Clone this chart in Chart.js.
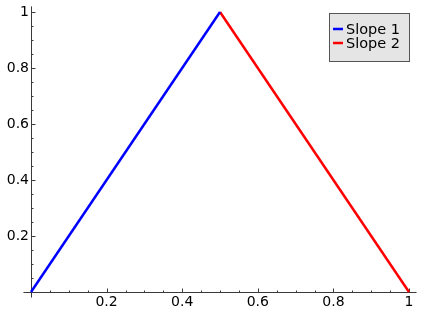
<!DOCTYPE html>
<html>
<head>
<meta charset="utf-8">
<script src="https://cdn.jsdelivr.net/npm/chart.js@4.4.1/dist/chart.umd.min.js"></script>
<style>
  html, body { margin: 0; padding: 0; background: #fff; }
  canvas { display: block; }
</style>
</head>
<body>
<canvas id="plot" width="422" height="316"></canvas>
<script>
// data
var seriesNames = ["Slope 1", "Slope 2"];
var slope1X = [0, 0.5];
var slope1Y = [0, 1];
var slope2X = [0.5, 1];
var slope2Y = [1, 0];
var xTicks = [0.2, 0.4, 0.6, 0.8, 1];
var xTickLabels = ["0.2", "0.4", "0.6", "0.8", "1"];
var yTicks = [0.2, 0.4, 0.6, 0.8, 1];
var yTickLabels = ["0.2", "0.4", "0.6", "0.8", "1"];
var minorStep = 0.05;

function toPoints(xs, ys) {
  return xs.map(function (x, i) { return { x: x, y: ys[i] }; });
}

var FONT = "'DejaVu Sans', sans-serif";
var AXIS_COLOR = "#3a3a3a";

// sage style axes: drawn through 0, a little longer than the data range, ticks pointing in
var sageAxes = {
  id: "sageAxes",
  beforeDatasetsDraw: function (chart) {
    var c = chart.ctx, xs = chart.scales.x, ys = chart.scales.y;
    var x0 = Math.round(xs.getPixelForValue(0)) + 0.5;
    var y0 = Math.round(ys.getPixelForValue(0)) + 0.5;
    c.save();
    c.strokeStyle = AXIS_COLOR;
    c.lineWidth = 1;
    c.beginPath();
    c.moveTo(xs.getPixelForValue(-0.02), y0);
    c.lineTo(xs.getPixelForValue(1.02), y0);
    c.moveTo(x0, ys.getPixelForValue(-0.02));
    c.lineTo(x0, ys.getPixelForValue(1.02));
    for (var v = minorStep; v <= 1.0001; v += minorStep) {
      var major = Math.abs(v / 0.2 - Math.round(v / 0.2)) < 1e-6;
      var len = major ? 4 : 2;
      var px = Math.round(xs.getPixelForValue(v)) + 0.5;
      var py = Math.round(ys.getPixelForValue(v)) + 0.5;
      c.moveTo(px, y0);
      c.lineTo(px, y0 - len);
      c.moveTo(x0, py);
      c.lineTo(x0 + len, py);
    }
    c.stroke();
    c.restore();
  }
};

// boxed legend in the upper right corner
var boxLegend = {
  id: "boxLegend",
  afterDraw: function (chart) {
    var c = chart.ctx, a = chart.chartArea;
    var bx = 329, by = 13, bw = a.right - 329, bh = 48;
    c.save();
    c.fillStyle = "#e5e5e5";
    c.fillRect(bx + 0.5, by + 0.5, bw, bh);
    c.strokeStyle = "#555";
    c.lineWidth = 1;
    c.strokeRect(bx + 0.5, by + 0.5, bw, bh);
    c.font = "14.5px " + FONT;
    c.textBaseline = "middle";
    c.textAlign = "left";
    chart.data.datasets.forEach(function (ds, i) {
      var ry = by + 16 + i * 14;
      c.strokeStyle = ds.borderColor;
      c.lineWidth = 2.5;
      c.beginPath();
      c.moveTo(bx + 4, ry);
      c.lineTo(bx + 14, ry);
      c.stroke();
      c.fillStyle = "#000";
      c.fillText(ds.label, bx + 17, ry + 1);
    });
    c.restore();
  }
};

new Chart(document.getElementById("plot"), {
  type: "scatter",
  data: {
    datasets: [{
      label: seriesNames[0],
      data: toPoints(slope1X, slope1Y),
      showLine: true,
      borderColor: "#0000ff",
      borderWidth: 2.5,
      pointRadius: 0,
      clip: false
    }, {
      label: seriesNames[1],
      data: toPoints(slope2X, slope2Y),
      showLine: true,
      borderColor: "#ff0000",
      borderWidth: 2.5,
      pointRadius: 0,
      clip: false
    }]
  },
  options: {
    responsive: false,
    animation: false,
    devicePixelRatio: 1,
    layout: { padding: { left: 0, top: 12, right: 13, bottom: 0 } },
    plugins: { legend: { display: false }, tooltip: { enabled: false } },
    scales: {
      x: {
        type: "linear", min: 0, max: 1,
        grid: { display: false, drawTicks: false },
        border: { display: false },
        afterBuildTicks: function (s) { s.ticks = xTicks.map(function (v) { return { value: v }; }); },
        afterFit: function (s) { s.height = 24; },
        ticks: {
          color: "#000", padding: 2, maxRotation: 0, autoSkip: false,
          font: { family: FONT, size: 14 },
          callback: function (v) { return xTickLabels[xTicks.indexOf(v)]; }
        }
      },
      y: {
        type: "linear", min: 0, max: 1,
        grid: { display: false, drawTicks: false },
        border: { display: false },
        afterBuildTicks: function (s) { s.ticks = yTicks.map(function (v) { return { value: v }; }); },
        afterFit: function (s) { s.width = 31; },
        ticks: {
          color: "#000", padding: 2, autoSkip: false,
          font: { family: FONT, size: 14 },
          callback: function (v) { return yTickLabels[yTicks.indexOf(v)]; }
        }
      }
    }
  },
  plugins: [sageAxes, boxLegend]
});
</script>
</body>
</html>
